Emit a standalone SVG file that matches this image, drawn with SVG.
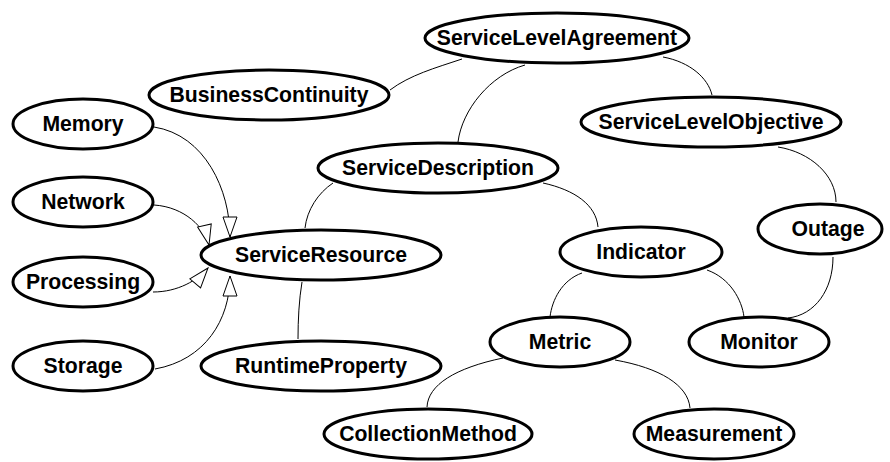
<svg xmlns="http://www.w3.org/2000/svg" width="890" height="462" viewBox="0 0 890 462">
<style>
.n ellipse{fill:#fff;stroke:#000;stroke-width:3}
.n text{font-family:"Liberation Sans",Arial,sans-serif;font-weight:bold;font-size:21.2px;text-anchor:middle;fill:#000}
.e path{fill:none;stroke:#000;stroke-width:1}
.e path.inh{marker-end:url(#tri)}
</style>
<defs>
<marker id="tri" viewBox="0 0 22 16" markerWidth="22" markerHeight="16" refX="21" refY="8" orient="auto" markerUnits="userSpaceOnUse">
<path d="M1,1 L21,8 L1,15 Z" fill="#fff" stroke="#000" stroke-width="1"/>
</marker>
</defs>
<rect width="890" height="462" fill="#fff"/>
<g id="connectors" class="e">
<path d="M390,90 C410,75 435,68 462,59"/>
<path d="M525,65 C490,75 462,110 458,142"/>
<path d="M663,57 C690,62 708,78 712,95"/>
<path d="M778,147 C810,152 836,175 836,202"/>
<path d="M833,257 C833,290 815,315 788,318"/>
<path d="M543,183 C575,190 596,205 598,227"/>
<path d="M333,183 C318,193 307,210 305,228"/>
<path d="M302,282 C299,300 298,320 298,339"/>
<path d="M582,273 C562,280 552,300 550,317"/>
<path d="M707,270 C730,278 742,300 744,317"/>
<path d="M503,358 C455,368 428,385 427,407"/>
<path d="M615,360 C660,368 688,385 690,408"/>
<path class="inh" d="M154,127 C205,135 230,190 230,237"/>
<path class="inh" d="M154,205 C185,207 205,228 209,245"/>
<path class="inh" d="M153,292 C178,292 198,280 208,268"/>
<path class="inh" d="M155,369 C205,360 230,320 230,276"/>
</g>
<g id="ServiceLevelAgreement" class="n"><ellipse cx="557" cy="38" rx="132" ry="25"/><text x="557" y="45">ServiceLevelAgreement</text></g>
<g id="BusinessContinuity" class="n"><ellipse cx="269" cy="95" rx="120" ry="25"/><text x="269" y="102">BusinessContinuity</text></g>
<g id="ServiceLevelObjective" class="n"><ellipse cx="711" cy="122" rx="130" ry="25"/><text x="711" y="129">ServiceLevelObjective</text></g>
<g id="Memory" class="n"><ellipse cx="83" cy="124" rx="70" ry="25"/><text x="83" y="130.5">Memory</text></g>
<g id="ServiceDescription" class="n"><ellipse cx="438" cy="168" rx="120" ry="25"/><text x="438" y="175">ServiceDescription</text></g>
<g id="Network" class="n"><ellipse cx="83" cy="202" rx="70" ry="25"/><text x="83" y="209">Network</text></g>
<g id="Outage" class="n"><ellipse cx="820" cy="229" rx="62" ry="25"/><text x="828" y="236">Outage</text></g>
<g id="ServiceResource" class="n"><ellipse cx="321" cy="255" rx="120" ry="25"/><text x="321" y="262">ServiceResource</text></g>
<g id="Indicator" class="n"><ellipse cx="641" cy="252" rx="81" ry="25"/><text x="641" y="259">Indicator</text></g>
<g id="Processing" class="n"><ellipse cx="83" cy="282" rx="70" ry="25"/><text x="83" y="289">Processing</text></g>
<g id="Metric" class="n"><ellipse cx="560" cy="342" rx="70" ry="25"/><text x="560" y="349">Metric</text></g>
<g id="Monitor" class="n"><ellipse cx="759" cy="342" rx="70" ry="25"/><text x="759" y="349">Monitor</text></g>
<g id="Storage" class="n"><ellipse cx="83" cy="366" rx="70" ry="25"/><text x="83" y="373">Storage</text></g>
<g id="RuntimeProperty" class="n"><ellipse cx="321" cy="366" rx="120" ry="25"/><text x="321" y="373">RuntimeProperty</text></g>
<g id="CollectionMethod" class="n"><ellipse cx="428" cy="434" rx="104" ry="25"/><text x="428" y="441">CollectionMethod</text></g>
<g id="Measurement" class="n"><ellipse cx="714" cy="434" rx="80" ry="25"/><text x="714" y="441">Measurement</text></g>
</svg>
